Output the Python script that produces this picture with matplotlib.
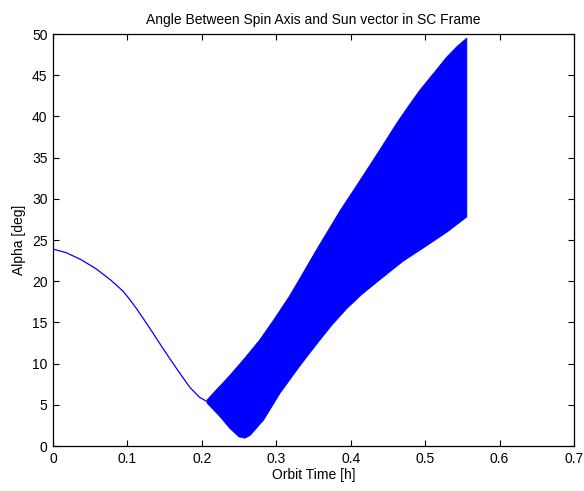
import matplotlib
matplotlib.use('Agg')
import matplotlib.pyplot as plt
import numpy as np

plt.rcParams['font.family'] = ['Liberation Sans', 'DejaVu Sans']

# slow part of the curve, before the spin starts nutating
t_curve = [0.0, 0.018, 0.038, 0.058, 0.078, 0.094, 0.103, 0.112, 0.130, 0.148, 0.166, 0.184, 0.197, 0.207]
alpha_curve = [23.9, 23.45, 22.6, 21.5, 20.1, 18.8, 17.8, 16.7, 14.3, 11.8, 9.4, 7.1, 5.9, 5.4]

# envelope of the fast oscillation (band)
t_upper = [0.207, 0.238, 0.258, 0.278, 0.298, 0.3185, 0.336, 0.354, 0.37, 0.386, 0.405,
           0.4216, 0.4395, 0.462, 0.478, 0.493, 0.512, 0.529, 0.543, 0.556]
alpha_upper = [5.6, 8.6, 10.7, 12.9, 15.5, 18.3, 21.0, 23.8, 26.2, 28.6, 31.2,
               33.5, 36.0, 39.2, 41.3, 43.2, 45.3, 47.2, 48.5, 49.5]
t_lower = [0.207, 0.223, 0.238, 0.250, 0.258, 0.265, 0.283, 0.305, 0.3275, 0.34, 0.359,
           0.375, 0.395, 0.415, 0.4395, 0.47, 0.502, 0.53, 0.556]
alpha_lower = [5.2, 3.7, 2.1, 1.1, 0.95, 1.3, 3.15, 6.4, 9.2, 10.7, 12.9,
               14.7, 16.7, 18.4, 20.2, 22.4, 24.3, 26.0, 27.8]

xticks = [0, 0.1, 0.2, 0.3, 0.4, 0.5, 0.6, 0.7]
yticks = [0, 5, 10, 15, 20, 25, 30, 35, 40, 45, 50]

fig = plt.figure(figsize=(5.84, 4.91), dpi=100)
ax = fig.add_axes([53 / 584, 45 / 491, 521 / 584, 412 / 491])

ax.plot(t_curve, alpha_curve, color='#0000ff', lw=0.9)
band_t = t_upper + t_lower[::-1]
band_a = alpha_upper + alpha_lower[::-1]
ax.fill(band_t, band_a, color='#0000ff', lw=0.6, ec='#0000ff')

ax.set_xlim(0, 0.7)
ax.set_ylim(0, 50)
ax.set_xticks(xticks)
ax.set_xticklabels(['0', '0.1', '0.2', '0.3', '0.4', '0.5', '0.6', '0.7'])
ax.set_yticks(yticks)
ax.tick_params(direction='in', top=True, right=True, length=4, width=0.8, labelsize=10, pad=4)
for s in ax.spines.values():
    s.set_linewidth(0.9)

ax.set_title('Angle Between Spin Axis and Sun vector in SC Frame', fontsize=10, pad=7)
ax.set_xlabel('Orbit Time [h]', fontsize=10, labelpad=2)
ax.set_ylabel('Alpha [deg]', fontsize=10, labelpad=4)

plt.savefig('out.png', dpi=100)
